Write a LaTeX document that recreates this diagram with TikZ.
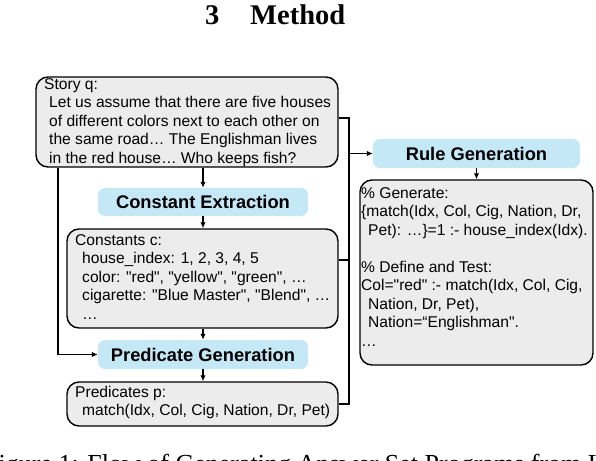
\documentclass[tikz,border=0pt]{standalone}
\usepackage{fontspec}
\setmainfont{Liberation Serif}
\newfontfamily\hv{Liberation Sans}
\usetikzlibrary{arrows.meta}
\definecolor{boxgray}{RGB}{236,236,236}
\definecolor{boxblue}{RGB}{197,232,247}
\begin{document}
\begin{tikzpicture}[x=1pt,y=-1pt,
  graybox/.style={draw=black, line width=1.4pt, fill=boxgray, rounded corners=12pt, inner sep=0pt},
  bluebox/.style={fill=boxblue, rounded corners=7pt, inner sep=0pt, font=\hv\fontsize{18.3}{20}\selectfont\bfseries},
  txt/.style={anchor=base west, inner sep=0pt, font=\hv\fontsize{15.6}{18}\selectfont},
  conn/.style={line width=1.4pt},
  arr/.style={conn, -{Latex[length=6pt,width=5.5pt]}}]
\clip (0,0) rectangle (596,460);
\useasboundingbox (0,0) rectangle (596,460);

% title and caption
\node[anchor=base west, inner sep=0pt, font=\bfseries\fontsize{28.5}{30}\selectfont] (secnum) at (205,24.5) {3};
\node[anchor=base west, inner sep=0pt, font=\bfseries\fontsize{28.5}{30}\selectfont] (sectitle) at (250,24.5) {Method};
\node[anchor=base west, inner sep=0pt, font=\fontsize{26}{28}\selectfont] (caption) at (-16,472) {Figure 1: Flow of Generating Answer Set Programs from LLMs};

% boxes
\node[graybox, minimum width=302pt, minimum height=90pt] (story) at (187,122) {};
\node[bluebox, minimum width=210pt, minimum height=28pt] (constE) at (203,202) {Constant Extraction};
\node[graybox, minimum width=271pt, minimum height=99pt] (consts) at (202.5,278.5) {};
\node[bluebox, minimum width=210pt, minimum height=29pt] (predG) at (203,354.5) {Predicate Generation};
\node[graybox, minimum width=271pt, minimum height=44pt] (preds) at (202.5,404) {};
\node[bluebox, minimum width=207pt, minimum height=29pt] (ruleG) at (476.5,153.5) {Rule Generation};
\node[graybox, minimum width=233pt, minimum height=185pt] (rules) at (476.5,272.5) {};

% story text
\node[txt] (s1) at (44,89.5) {Story q:};
\node[txt] (s2) at (49,107.5) {Let us assume that there are five houses};
\node[txt] (s3) at (49,126) {of different colors next to each other on};
\node[txt] (s4) at (49,144.5) {the same road… The Englishman lives};
\node[txt] (s5) at (49,163) {in the red house… Who keeps fish?};

% constants text
\node[txt] (c1) at (75,245) {Constants c:};
\node[txt] (c2) at (82,263.5) {house\_index: 1, 2, 3, 4, 5};
\node[txt] (c3) at (82,282) {color: "red", "yellow", "green", …};
\node[txt] (c4) at (82,300.5) {cigarette: "Blue Master", "Blend", …};
\node[txt] (c5) at (82,319) {…};

% predicates text
\node[txt] (p1) at (75,397) {Predicates p:};
\node[txt] (p2) at (82,415) {match(Idx, Col, Cig, Nation, Dr, Pet)};

% rules text
\node[txt] (r1) at (361,198) {\% Generate:};
\node[txt] (r2) at (361,216.5) {\{match(Idx, Col, Cig, Nation, Dr,};
\node[txt] (r3) at (368,235) {Pet): …\}=1 :- house\_index(Idx).};
\node[txt] (r4) at (361,272) {\% Define and Test:};
\node[txt] (r5) at (361,290.5) {Col="red" :- match(Idx, Col, Cig,};
\node[txt] (r6) at (368,309) {Nation, Dr, Pet),};
\node[txt] (r7) at (368,327.5) {Nation=“Englishman".};
\node[txt] (r8) at (361,346) {…};

% connectors
\coordinate (busTop) at (349,118);
\coordinate (busBot) at (349,404);
\coordinate (cJoin) at (349,260);
\coordinate (leftX) at (58,167);
\draw[conn] (story.east |- busTop) -- (busTop) -- (busBot) -- (preds.east |- busBot);
\draw[conn] (consts.east |- cJoin) -- (cJoin);
\draw[arr] (ruleG.west -| busTop) -- (ruleG.west);
\draw[arr] (constE.north |- story.south) -- (constE.north);
\draw[arr] (constE.south) -- (constE.south |- consts.north);
\draw[arr] (predG.north |- consts.south) -- (predG.north);
\draw[arr] (predG.south) -- (predG.south |- preds.north);
\draw[arr] (ruleG.south) -- (ruleG.south |- rules.north);
\draw[arr] (story.south -| leftX) |- (predG.west);
\end{tikzpicture}
\end{document}
